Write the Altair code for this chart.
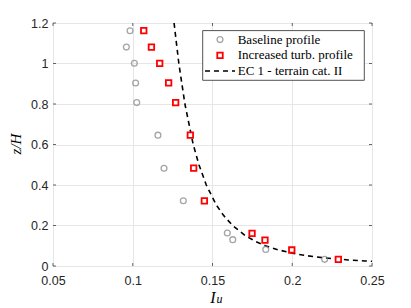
import altair as alt
import pandas as pd

# ---- data ----
base_iu = [0.0983, 0.0960, 0.1010, 0.1018, 0.1025, 0.1158, 0.1196, 0.1317, 0.1593, 0.1627, 0.1834, 0.2203]
base_z = [1.162, 1.081, 1.001, 0.904, 0.807, 0.646, 0.483, 0.322, 0.163, 0.130, 0.082, 0.033]
turb_iu = [0.1069, 0.1117, 0.1169, 0.1225, 0.1269, 0.1361, 0.1382, 0.1449, 0.1748, 0.1829, 0.1997, 0.2289]
turb_z = [1.162, 1.081, 1.001, 0.904, 0.807, 0.646, 0.483, 0.322, 0.161, 0.128, 0.079, 0.033]
ec_z = [1.2, 1.0, 0.8, 0.6, 0.5, 0.4, 0.3, 0.25, 0.2, 0.15, 0.12, 0.1, 0.08, 0.06, 0.05, 0.04, 0.03, 0.025, 0.0233]
ec_iu = [0.1259, 0.1289, 0.1327, 0.1379, 0.1415, 0.1461, 0.1525, 0.1569, 0.1626, 0.1705, 0.1773, 0.1832,
         0.1910, 0.2021, 0.2099, 0.2202, 0.2351, 0.2456, 0.2500]
x_ticks = [0.05, 0.1, 0.15, 0.2, 0.25]
y_ticks = [0, 0.2, 0.4, 0.6, 0.8, 1.0, 1.2]
legend_labels = ["Baseline profile", "Increased turb. profile", "EC 1 - terrain cat. II"]

W, H = 319, 243
TXT = "#262626"
SANS = "Liberation Sans"
SERIF = "Liberation Serif"

base_df = pd.DataFrame({"iu": base_iu, "z": base_z})
turb_df = pd.DataFrame({"iu": turb_iu, "z": turb_z})
ec_df = pd.DataFrame({"iu": ec_iu, "z": ec_z})
xt_df = pd.DataFrame({"v": x_ticks})
yt_df = pd.DataFrame({"v": y_ticks})

xscale = alt.Scale(domain=[0.05, 0.25], nice=False, zero=False)
yscale = alt.Scale(domain=[0, 1.2], nice=False, zero=False)

xaxis = alt.Axis(values=x_ticks, format="~g", grid=True, gridColor="#e6e6e6", gridWidth=1,
                 tickSize=0, domain=False, labelFont=SANS, labelFontSize=12.5, labelColor=TXT,
                 labelPadding=8, title=None, labelFlush=False)
yaxis = alt.Axis(values=y_ticks, format="~g", grid=True, gridColor="#e6e6e6", gridWidth=1,
                 tickSize=0, domain=False, labelFont=SANS, labelFontSize=12.5, labelColor=TXT,
                 labelPadding=5, title=None, labelFlush=False)

ec = alt.Chart(ec_df).mark_line(color="black", strokeWidth=1.6, strokeDash=[5, 4], clip=True).encode(
    x=alt.X("iu:Q", scale=xscale, axis=xaxis),
    y=alt.Y("z:Q", scale=yscale, axis=yaxis),
)
base = alt.Chart(base_df).mark_point(shape="circle", filled=False, color="#808080", strokeWidth=1.3, size=34).encode(
    x="iu:Q", y="z:Q")
turb = alt.Chart(turb_df).mark_point(shape="square", filled=True, fill="white", stroke="#ff0000",
                                     strokeWidth=1.8, size=30, opacity=1).encode(x="iu:Q", y="z:Q")

tick_col = "#404040"
xt_bot = alt.Chart(xt_df).mark_rule(color=tick_col, strokeWidth=0.8).encode(
    x="v:Q", y=alt.value(H), y2=alt.value(H - 3))
xt_top = alt.Chart(xt_df).mark_rule(color=tick_col, strokeWidth=0.8).encode(
    x="v:Q", y=alt.value(0), y2=alt.value(3))
yt_l = alt.Chart(yt_df).mark_rule(color=tick_col, strokeWidth=0.8).encode(
    y="v:Q", x=alt.value(0), x2=alt.value(3))
yt_r = alt.Chart(yt_df).mark_rule(color=tick_col, strokeWidth=0.8).encode(
    y="v:Q", x=alt.value(W), x2=alt.value(W - 3))

# legend box
lx0, lx1, ly0, ly1 = 149.7, 311.3, 7.6, 57.3
leg_box = alt.Chart(pd.DataFrame({"a": [0]})).mark_rect(fill="white", stroke="#404040", strokeWidth=0.9).encode(
    x=alt.value(lx0), x2=alt.value(lx1), y=alt.value(ly0), y2=alt.value(ly1))
leg_c = alt.Chart(pd.DataFrame({"a": [0]})).mark_point(shape="circle", filled=False, color="#808080",
                                                       strokeWidth=1.3, size=34).encode(
    x=alt.value(167), y=alt.value(16.6))
leg_s = alt.Chart(pd.DataFrame({"a": [0]})).mark_point(shape="square", filled=True, fill="white", stroke="#ff0000",
                                                       strokeWidth=1.8, size=30, opacity=1).encode(
    x=alt.value(167), y=alt.value(32.3))
leg_l = alt.Chart(pd.DataFrame({"a": [0]})).mark_rule(color="black", strokeWidth=1.6, strokeDash=[5, 4]).encode(
    x=alt.value(152), x2=alt.value(182), y=alt.value(48))
leg_texts = []
for lab, yy in zip(legend_labels, [16.6, 32.3, 48]):
    leg_texts.append(alt.Chart(pd.DataFrame({"t": [lab]})).mark_text(
        align="left", baseline="middle", font=SERIF, fontSize=13, color="black").encode(
        x=alt.value(184.7), y=alt.value(yy), text="t:N"))

# axis titles
xt_I = alt.Chart(pd.DataFrame({"t": ["I"]})).mark_text(
    align="center", baseline="alphabetic", font=SERIF, fontSize=16, fontStyle="italic", color="black").encode(
    x=alt.value(160), y=alt.value(279.5), text="t:N")
xt_u = alt.Chart(pd.DataFrame({"t": ["u"]})).mark_text(
    align="center", baseline="alphabetic", font=SERIF, fontSize=12, fontStyle="italic", color="black").encode(
    x=alt.value(166.5), y=alt.value(280), text="t:N")
yt_t = alt.Chart(pd.DataFrame({"t": ["z/H"]})).mark_text(
    align="center", baseline="middle", font=SERIF, fontSize=15, fontStyle="italic", color="black", angle=270).encode(
    x=alt.value(-37.5), y=alt.value(121), text="t:N")

chart = alt.layer(ec, base, turb, xt_bot, xt_top, yt_l, yt_r, leg_box, leg_c, leg_s, leg_l, *leg_texts,
                  xt_I, xt_u, yt_t).properties(
    width=W, height=H,
    autosize=alt.AutoSizeParams(type="none"),
    padding={"left": 45, "top": 15, "right": 20, "bottom": 40},
).configure_view(stroke="#404040", strokeWidth=1)

chart.save("out.html", embed_options={"renderer": "svg", "actions": False})
